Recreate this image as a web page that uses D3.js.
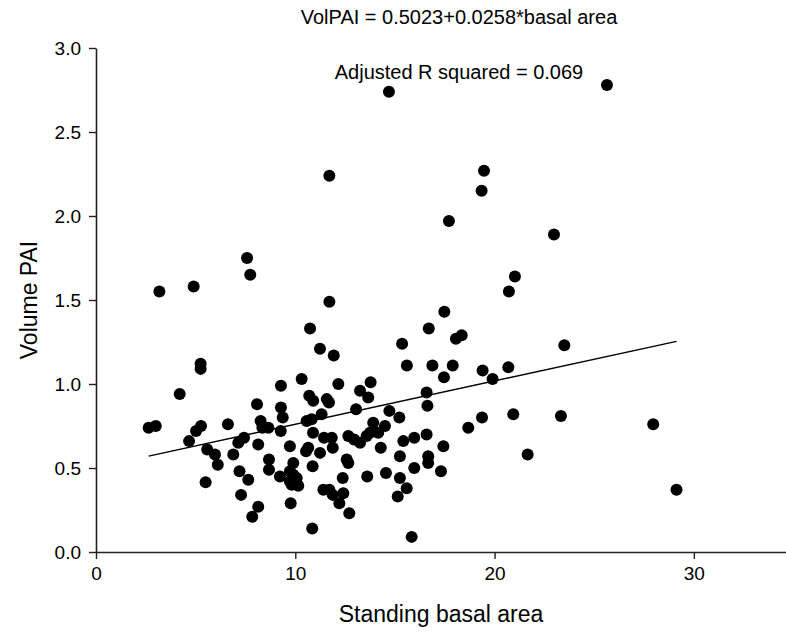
<!DOCTYPE html>
<html>
<head>
<meta charset="utf-8">
<script src="https://cdn.jsdelivr.net/npm/d3@7"></script>
<style>
  html, body { margin: 0; padding: 0; background: #fff; }
  svg { display: block; font-family: "Liberation Sans", Arial, sans-serif; }
</style>
</head>
<body>
<svg id="chart" width="786" height="636"></svg>
<script>
// Standing basal area (x) and volume periodic annual increment (y), one entry per plot
const basalArea = [
  2.64, 3.00, 3.18, 4.90, 4.20, 5.02, 5.27, 5.25, 5.25, 4.67,
  5.58, 5.97, 6.11, 5.50, 6.62, 6.89, 7.14, 7.43, 7.20, 7.64,
  7.28, 7.58, 7.74, 8.08, 8.14, 8.14, 7.84, 8.26, 8.35, 8.65,
  8.68, 8.68, 9.27, 9.28, 9.28, 9.37, 9.23, 9.73, 9.90, 9.73,
  9.90, 9.73, 10.07, 9.82, 10.15, 9.77, 10.74, 11.24, 11.93, 11.71,
  11.71, 10.32, 12.16, 10.70, 10.90, 11.58, 11.69, 11.32, 10.57, 10.82,
  10.89, 13.25, 13.78, 13.66, 13.05, 14.72, 15.22, 16.63, 16.70, 16.88,
  15.36, 15.60, 13.91, 14.50, 16.59, 10.54, 10.65, 11.24, 11.44, 11.83,
  11.88, 12.66, 12.95, 13.25, 13.58, 13.75, 14.16, 14.29, 15.25, 15.42,
  15.97, 16.67, 16.67, 12.58, 12.66, 10.87, 12.38, 13.61, 14.55, 15.25,
  15.97, 11.41, 11.71, 11.88, 12.41, 12.21, 12.71, 15.59, 15.14, 10.85,
  15.84, 18.06, 18.35, 23.50, 17.90, 17.46, 19.40, 20.69, 19.90, 16.59,
  18.68, 19.37, 20.94, 23.33, 27.96, 17.43, 17.31, 21.66, 29.13, 19.47,
  19.35, 17.71, 22.98, 21.02, 20.72, 17.48, 14.70, 25.64
];
const volPAI = [
  0.74, 0.75, 1.55, 1.58, 0.94, 0.72, 0.75, 1.12, 1.09, 0.66,
  0.61, 0.58, 0.52, 0.415, 0.76, 0.58, 0.65, 0.68, 0.48, 0.43,
  0.34, 1.75, 1.65, 0.88, 0.64, 0.27, 0.21, 0.78, 0.74, 0.74,
  0.55, 0.49, 0.72, 0.99, 0.86, 0.80, 0.45, 0.63, 0.53, 0.48,
  0.46, 0.42, 0.44, 0.40, 0.395, 0.29, 1.33, 1.21, 1.17, 1.49,
  2.24, 1.03, 1.00, 0.93, 0.90, 0.91, 0.89, 0.82, 0.78, 0.79,
  0.71, 0.96, 1.01, 0.92, 0.85, 0.84, 0.80, 0.87, 1.33, 1.11,
  1.24, 1.11, 0.77, 0.75, 0.70, 0.60, 0.62, 0.59, 0.68, 0.68,
  0.62, 0.69, 0.67, 0.65, 0.69, 0.71, 0.71, 0.62, 0.57, 0.66,
  0.68, 0.57, 0.53, 0.55, 0.53, 0.51, 0.44, 0.45, 0.47, 0.44,
  0.50, 0.37, 0.37, 0.34, 0.35, 0.29, 0.23, 0.38, 0.33, 0.14,
  0.09, 1.27, 1.29, 1.23, 1.11, 1.04, 1.08, 1.10, 1.03, 0.95,
  0.74, 0.80, 0.82, 0.81, 0.76, 0.63, 0.48, 0.58, 0.37, 2.27,
  2.15, 1.97, 1.89, 1.64, 1.55, 1.43, 2.74, 2.78
];

// Fitted linear model
const intercept = 0.5023;
const slope = 0.0258;
const adjR2 = 0.069;

const xTicks = [0, 10, 20, 30];
const yTicks = [0, 0.5, 1.0, 1.5, 2.0, 2.5, 3.0];

const titleText = "VolPAI = " + intercept.toFixed(4) + "+" + slope.toFixed(4) + "*basal area";
const r2Text = "Adjusted R squared = " + adjR2.toFixed(3);
const xLabel = "Standing basal area";
const yLabel = "Volume PAI";

const svg = d3.select("#chart");

const x = d3.scaleLinear().domain([0, 35]).range([96, 793.5]);
const y = d3.scaleLinear().domain([0, 3]).range([552, 48]);

// Axes
const xAxis = d3.axisBottom(x).tickValues(xTicks).tickFormat(d3.format("d"))
  .tickSizeInner(7).tickSizeOuter(0).tickPadding(8);
const yAxis = d3.axisLeft(y).tickValues(yTicks).tickFormat(d3.format(".1f"))
  .tickSizeInner(7).tickSizeOuter(0).tickPadding(8);

const gx = svg.append("g").attr("transform", "translate(0,552)").call(xAxis);
const gy = svg.append("g").attr("transform", "translate(96,0)").call(yAxis);

[gx, gy].forEach(g => {
  g.select(".domain").attr("stroke", "#222").attr("stroke-width", 1.6);
  g.selectAll(".tick line").attr("stroke", "#222").attr("stroke-width", 1.4);
  g.selectAll(".tick text")
    .attr("fill", "#000")
    .style("font-family", "'Liberation Sans', Arial, sans-serif")
    .style("font-size", "19px");
});

// Scatter points
const pts = basalArea.map((b, i) => ({ b, v: volPAI[i] }));
svg.append("g")
  .selectAll("circle")
  .data(pts)
  .join("circle")
  .attr("cx", d => x(d.b))
  .attr("cy", d => y(d.v))
  .attr("r", 6)
  .attr("fill", "#000");

// Regression line across the observed range
const [xmin, xmax] = d3.extent(basalArea);
const fit = d3.line().x(d => x(d)).y(d => y(intercept + slope * d));
svg.append("path")
  .attr("d", fit([xmin, xmax]))
  .attr("fill", "none")
  .attr("stroke", "#000")
  .attr("stroke-width", 1.4);

// Annotations
svg.append("text")
  .attr("x", 459).attr("y", 24)
  .attr("text-anchor", "middle")
  .style("font-size", "20px")
  .text(titleText);

svg.append("text")
  .attr("x", 459).attr("y", 79)
  .attr("text-anchor", "middle")
  .style("font-size", "20px")
  .text(r2Text);

// Axis titles
svg.append("text")
  .attr("x", 441).attr("y", 622)
  .attr("text-anchor", "middle")
  .style("font-size", "23px")
  .text(xLabel);

svg.append("text")
  .attr("transform", "translate(37,300) rotate(-90)")
  .attr("text-anchor", "middle")
  .style("font-size", "23px")
  .text(yLabel);
</script>
</body>
</html>
